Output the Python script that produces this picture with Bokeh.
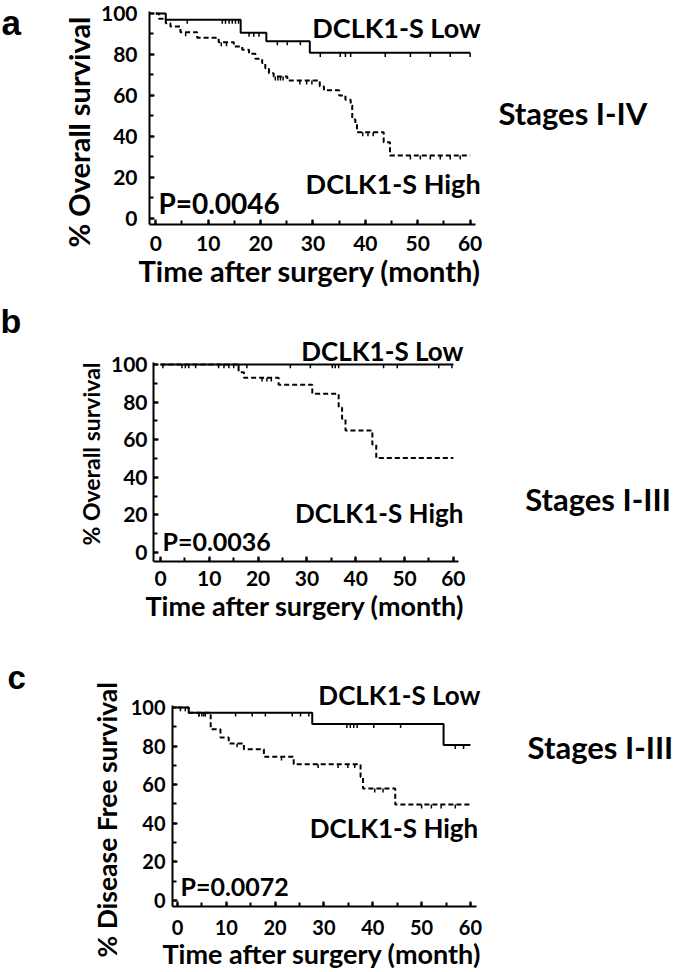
import numpy as np
from bokeh.plotting import figure
from bokeh.models import Range1d, Label, FixedTicker, Title
from bokeh.layouts import row
from bokeh.embed import file_html
from bokeh.resources import INLINE

# ---------------- data ----------------
x_ticks = [0, 10, 20, 30, 40, 50, 60]
y_ticks = [0, 20, 40, 60, 80, 100]

# panel a: Stages I-IV, overall survival
a_low_t = [0, 1.9, 16.2, 21.1, 29.4, 60]
a_low_s = [100, 97.0, 90.6, 86.5, 80.8, 80.8]
a_high_t = [0, 0.6, 1.9, 2.8, 4.7, 7.9, 12.0, 14.9, 16.5, 17.8, 19.0, 20.3, 20.9, 21.6,
            22.5, 25.1, 31.3, 32.1, 35.0, 36.2, 37.2, 37.5, 38.1, 38.4, 43.5, 44.7, 60]
a_high_s = [100, 97.4, 95.3, 93.7, 90.9, 88.2, 86.0, 83.9, 82.3, 80.3, 77.9, 75.8, 73.3, 70.9,
            69.3, 67.3, 64.4, 62.5, 60.0, 57.9, 55.1, 48.3, 46.5, 42.1, 37.2, 30.7, 30.7]
a_low_cens = [6.0, 12.7, 13.3, 14.0, 14.6, 15.2, 15.8, 17.8, 18.7, 19.7, 23.2, 25.1, 27.6,
              31.4, 35.2, 36.2, 37.2, 43.8, 48.6, 52.4, 56.2, 60]
a_high_cens = [5.7, 12.5, 13.5, 22.8, 23.3, 23.8, 24.3, 27.5, 28.8, 29.8, 39.5, 40.5, 41.5,
               48.6, 50.5, 52.4, 54.3, 56.2, 58.1]

# panel b: Stages I-III, overall survival
b_low_t = [0, 60]
b_low_s = [100, 100]
b_high_t = [0, 16.0, 17.1, 24.2, 31.1, 36.5, 37.2, 37.9, 43.4, 44.2, 60]
b_high_s = [100, 95.9, 92.9, 89.2, 84.4, 77.0, 71.1, 64.9, 57.4, 50.2, 50.2]
b_low_cens = [0.5, 4.4, 5.1, 5.8, 7.2, 11.9, 13.0, 14.0, 15.0, 16.0, 17.7, 26.6, 30.7,
              35.2, 35.8, 36.5, 45.7, 48.5, 57.0, 59.7]
b_high_cens = [20.8, 21.8, 22.7]

# panel c: Stages I-III, disease free survival
c_low_t = [0, 2.3, 27.6, 54.5, 60]
c_low_s = [100, 97.3, 91.4, 80.5, 80.5]
c_high_t = [0, 2.3, 6.8, 8.8, 10.5, 13.6, 17.7, 23.8, 37.5, 38.0, 44.6, 60]
c_high_s = [100, 97.3, 88.7, 84.5, 81.4, 78.4, 74.5, 70.6, 64.0, 58.0, 49.7, 49.7]
c_low_cens = [0.6, 1.6, 4.4, 5.0, 5.7, 11.9, 15.3, 18.0, 23.5, 25.2, 26.9, 34.7, 35.4,
              36.1, 36.8, 40.2, 45.7, 56.9, 58.6]
c_high_cens = [4.4, 5.4, 12.2, 21.3, 28.8, 32.9, 34.9, 36.3, 40.4, 42.1, 50.0, 52.0, 54.0, 56.9]

x_title = "Time after surgery (month)"

FONT = "Lato"
LW = 40          # width of the panel-letter strip
PW = 675 - LW    # width of each panel figure
BASE = 0.38      # baseline correction for labels, in em


def level_at(ts, ss, t):
    idx = np.searchsorted(np.array(ts), t, side="right") - 1
    return np.array(ss)[idx]


def px(fs):
    return float(fs.replace("px", ""))


def make_panel(cfg):
    bb = cfg["height"] - cfg["fh"]
    p = figure(width=PW, height=cfg["height"],
               x_range=Range1d(*cfg["xr"]), y_range=Range1d(*cfg["yr"]),
               min_border_left=cfg["bl"], min_border_right=0,
               min_border_top=0, min_border_bottom=bb,
               output_backend="svg", toolbar_location=None)
    p.outline_line_color = None
    p.xgrid.visible = False
    p.ygrid.visible = False
    p.background_fill_color = "white"
    p.border_fill_color = "white"

    for ax, ticks, bnds in ((p.xaxis[0], x_ticks, cfg["xb"]), (p.yaxis[0], y_ticks, cfg["yb"])):
        ax.ticker = FixedTicker(ticks=ticks,
                                minor_ticks=list(np.arange(ticks[0], ticks[-1] + 0.1,
                                                           (ticks[1] - ticks[0]) / 2)))
        ax.bounds = bnds
        ax.axis_line_width = 2
        ax.axis_line_color = "black"
        ax.major_tick_in = 5
        ax.major_tick_out = 0
        ax.minor_tick_in = 4
        ax.minor_tick_out = 0
        ax.major_tick_line_width = 2
        ax.minor_tick_line_width = 2
        ax.major_label_text_font = FONT
        ax.major_label_text_font_style = "bold"
        ax.major_label_text_color = "black"
    p.xaxis.major_label_text_font_size = cfg["tick_fs"]
    p.yaxis.major_label_text_font_size = cfg["tick_fs"]
    p.xaxis.major_label_standoff = cfg["x_std"]
    p.yaxis.major_label_standoff = cfg["y_std"]

    # axis titles as side titles so they can be shifted along the frame
    p.add_layout(Title(text=cfg["ylabel"], align="left", offset=cfg["y_off"],
                       standoff=cfg["yl_std"], text_font=FONT, text_font_style="bold",
                       text_font_size=cfg["yt_fs"], text_color="black"), "left")
    p.add_layout(Title(text=x_title, align="left", offset=cfg["x_off"],
                       standoff=cfg["xl_std"], text_font=FONT, text_font_style="bold",
                       text_font_size=cfg["xt_fs"], text_color="black"), "below")

    lt, ls, ht, hs = cfg["low_t"], cfg["low_s"], cfg["high_t"], cfg["high_s"]
    p.step(ht, hs, mode="after", line_color="black", line_width=2, line_dash="5 3")
    p.step(lt, ls, mode="after", line_color="black", line_width=2)
    for ts, ss, cens in ((lt, ls, cfg["low_c"]), (ht, hs, cfg["high_c"])):
        lv = level_at(ts, ss, cens)
        p.segment(x0=cens, y0=lv, x1=cens, y1=lv - cfg["cl"],
                  line_color="black", line_width=1.5)

    def lab(x, y, text, fs, align="left"):
        p.add_layout(Label(x=x, y=y, text=text, text_font=FONT, text_font_style="bold",
                           text_font_size=fs, text_align=align, text_baseline="alphabetic",
                           y_offset=BASE * px(fs), text_color="black"))

    lab(cfg["low_lab"][0], cfg["low_lab"][1], "DCLK1-S Low", cfg["lab_fs"], "right")
    lab(cfg["high_lab"][0], cfg["high_lab"][1], "DCLK1-S High", cfg["lab_fs"], "right")
    lab(cfg["p_lab"][0], cfg["p_lab"][1], cfg["ptext"], cfg["p_fs"], "left")
    lab(cfg["stage_lab"][0], cfg["stage_lab"][1], cfg["stage"], "31px", "left")

    # narrow strip holding the panel letter
    q = figure(width=LW, height=cfg["height"], x_range=Range1d(0, LW),
               y_range=Range1d(cfg["fh"], 0), min_border_left=0, min_border_right=0,
               min_border_top=0, min_border_bottom=bb,
               x_axis_location=None, y_axis_location=None,
               output_backend="svg", toolbar_location=None)
    q.outline_line_color = None
    q.xgrid.visible = False
    q.ygrid.visible = False
    q.add_layout(Label(x=cfg["let_pos"][0], y=cfg["let_pos"][1], text=cfg["letter"],
                       text_font="Liberation Sans", text_font_style="bold",
                       text_font_size=cfg["let_fs"], text_baseline="alphabetic",
                       y_offset=BASE * px(cfg["let_fs"]), text_color="black"))
    return row(q, p)


cfg_a = dict(height=300, xr=(-1.2, 99.2), yr=(-2.98, 106.35), bl=109, fh=224,
             xb=(-1.2, 61), yb=(-2.98, 101),
             ylabel="% Overall survival", tick_fs="21px", xt_fs="29px", yt_fs="29px",
             x_std=11, y_std=12, xl_std=-6, yl_std=4, x_off=-11, y_off=-23,
             low_t=a_low_t, low_s=a_low_s, high_t=a_high_t, high_s=a_high_s,
             low_c=a_low_cens, high_c=a_high_cens, cl=2.0,
             low_lab=(62.0, 88.3), high_lab=(62.0, 12.2), p_lab=(0.5, 2.4),
             ptext="P=0.0046", lab_fs="27px", p_fs="28px",
             stage_lab=(65.4, 45.8), stage="Stages I-IV",
             let_pos=(1, 35), letter="a", let_fs="35px")

cfg_b = dict(height=340, xr=(-1.43, 105.5), yr=(-4.79, 134.0), bl=113, fh=261,
             xb=(-1.43, 61), yb=(-4.79, 101),
             ylabel="% Overall survival", tick_fs="21px", xt_fs="27px", yt_fs="23px",
             x_std=9, y_std=6, xl_std=-4, yl_std=6, x_off=-8, y_off=16,
             low_t=b_low_t, low_s=b_low_s, high_t=b_high_t, high_s=b_high_s,
             low_c=b_low_cens, high_c=b_high_cens, cl=2.0,
             low_lab=(62.05, 102.1), high_lab=(62.05, 16.0), p_lab=(0.4, 1.1),
             ptext="P=0.0036", lab_fs="26px", p_fs="25px",
             stage_lab=(74.7, 22.3), stage="Stages I-III",
             let_pos=(0, 33), letter="b", let_fs="34px")

cfg_c = dict(height=331, xr=(-1.02, 102.0), yr=(-3.1, 134.7), bl=132, fh=266,
             xb=(-1.02, 61.2), yb=(-3.1, 101),
             ylabel="% Disease Free survival", tick_fs="20px", xt_fs="27px",
             yt_fs="26.5px",
             x_std=13, y_std=7, xl_std=-5, yl_std=10, x_off=-10, y_off=-51,
             low_t=c_low_t, low_s=c_low_s, high_t=c_high_t, high_s=c_high_s,
             low_c=c_low_cens, high_c=c_high_cens, cl=2.0,
             low_lab=(62.05, 101.3), high_lab=(61.6, 32.2), p_lab=(0.6, 2.6),
             ptext="P=0.0072", lab_fs="26px", p_fs="25px",
             stage_lab=(71.7, 73.2), stage="Stages I-III",
             let_pos=(7, 50), letter="c", let_fs="33px")

rows = [make_panel(cfg_a), make_panel(cfg_b), make_panel(cfg_c)]
open("out.html", "w").write(file_html(rows, INLINE))
